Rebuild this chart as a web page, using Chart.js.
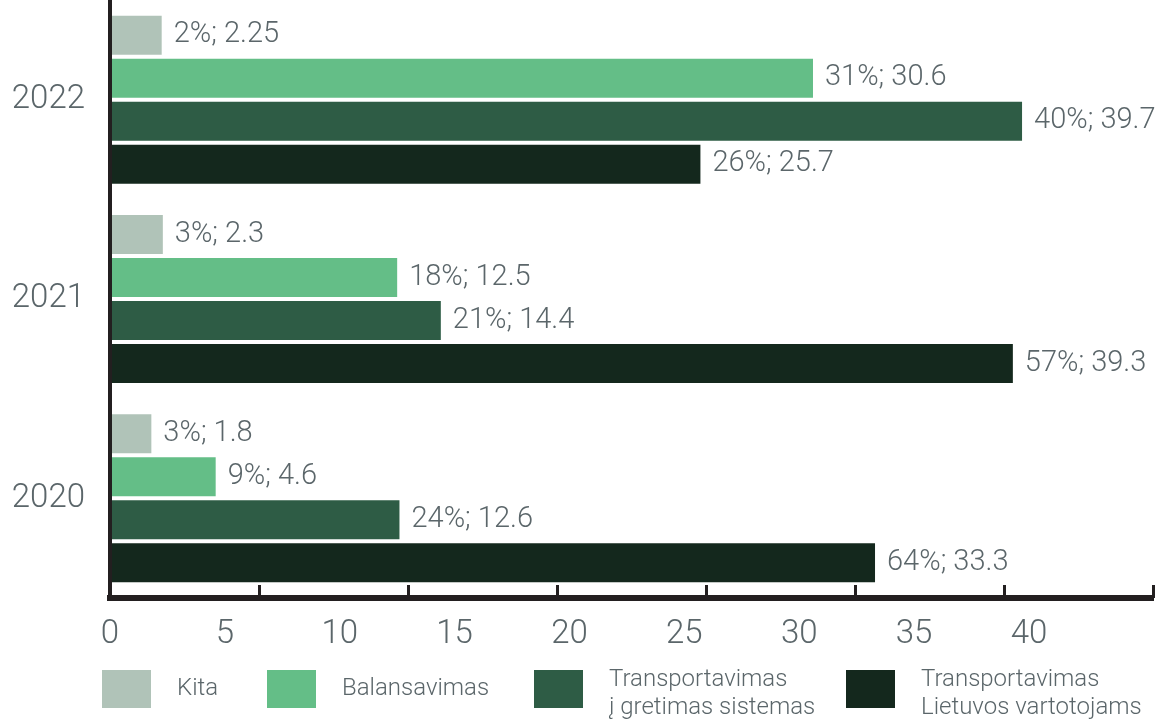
<!DOCTYPE html>
<html>
<head>
<meta charset="utf-8">
<script src="https://cdn.jsdelivr.net/npm/chart.js@4.4.1/dist/chart.umd.min.js"></script>
<style>
html,body{margin:0;padding:0;background:#ffffff;}
#wrap{width:1155px;height:721px;position:relative;}
</style>
</head>
<body>
<div id="wrap"><canvas id="c"></canvas></div>
<script>
// ---- data ----
const categories = ['2022', '2021', '2020'];
const kita = [2.25, 2.3, 1.8];
const kitaPct = [2, 3, 3];
const balansavimas = [30.6, 12.5, 4.6];
const balansavimasPct = [31, 18, 9];
const gretimas = [39.7, 14.4, 12.6];
const gretimasPct = [40, 21, 24];
const lietuvos = [25.7, 39.3, 33.3];
const lietuvosPct = [26, 57, 64];
const xTickLabels = [0, 5, 10, 15, 20, 25, 30, 35, 40];
const xMax = 45.4;
const tickMarkCount = 7;

// ---- style ----
const textColor = '#5b666a';
const axisColor = '#231f20';
const fontFamily = 'Roboto, "Noto Sans", sans-serif';
const LEG = { x: [102, 267, 534, 846], top: 670, boxW: 49, boxH: 38, gap: 26, lineStep: 28, size: 24 };

const valueLabels = {
  id: 'valueLabels',
  afterDatasetsDraw(chart) {
    const ctx = chart.ctx;
    ctx.save();
    ctx.font = '300 29px ' + fontFamily;
    ctx.fillStyle = textColor;
    ctx.textAlign = 'left';
    ctx.textBaseline = 'middle';
    chart.data.datasets.forEach((ds, di) => {
      const meta = chart.getDatasetMeta(di);
      meta.data.forEach((bar, i) => {
        ctx.fillText(ds.pct[i] + '%; ' + ds.data[i], bar.x + 12, bar.y);
      });
    });
    ctx.restore();
  }
};

const customLegend = {
  id: 'customLegend',
  afterDraw(chart) {
    const ctx = chart.ctx;
    ctx.save();
    chart.data.datasets.forEach((ds, i) => {
      const bx = LEG.x[i];
      ctx.fillStyle = ds.backgroundColor;
      ctx.fillRect(bx, LEG.top, LEG.boxW, LEG.boxH);
      ctx.fillStyle = textColor;
      ctx.font = '300 ' + LEG.size + 'px ' + fontFamily;
      ctx.textAlign = 'left';
      ctx.textBaseline = 'middle';
      const cy = LEG.top + LEG.boxH / 2;
      const tx = bx + LEG.boxW + LEG.gap;
      const lines = ds.legendLines;
      if (lines.length === 1) {
        ctx.fillText(lines[0], tx, cy);
      } else {
        lines.forEach((ln, k) => ctx.fillText(ln, tx, cy - 9 + k * LEG.lineStep));
      }
    });
    ctx.restore();
  }
};

new Chart(document.getElementById('c'), {
  type: 'bar',
  data: {
    labels: categories,
    datasets: [
      { label: 'Kita', legendLines: ['Kita'], data: kita, pct: kitaPct, backgroundColor: '#b0c3b8' },
      { label: 'Balansavimas', legendLines: ['Balansavimas'], data: balansavimas, pct: balansavimasPct, backgroundColor: '#64be87' },
      { label: 'Transportavimas į gretimas sistemas', legendLines: ['Transportavimas', 'į gretimas sistemas'], data: gretimas, pct: gretimasPct, backgroundColor: '#2e5c45' },
      { label: 'Transportavimas Lietuvos vartotojams', legendLines: ['Transportavimas', 'Lietuvos vartotojams'], data: lietuvos, pct: lietuvosPct, backgroundColor: '#14281d' }
    ]
  },
  options: {
    indexAxis: 'y',
    responsive: true,
    maintainAspectRatio: false,
    animation: false,
    events: [],
    datasets: { bar: { categoryPercentage: 0.863, barPercentage: 0.907, borderWidth: 0 } },
    layout: { padding: { top: 0, right: 2, bottom: 66, left: 0 } },
    plugins: { legend: { display: false }, tooltip: { enabled: false }, title: { display: false } },
    scales: {
      x: {
        type: 'linear', position: 'bottom', min: 0, max: xMax,
        afterBuildTicks: s => { s.ticks = xTickLabels.map(v => ({ value: v })); },
        afterFit: s => { s.height = 57; },
        grid: { display: false, drawTicks: false },
        border: { display: true, width: 6, color: axisColor, z: 1 },
        ticks: { padding: 17, color: textColor, autoSkip: false, maxRotation: 0,
                 font: { family: fontFamily, size: 33, weight: '300' } }
      },
      x2: {
        type: 'linear', axis: 'x', position: { y: 2.5 }, min: 0, max: xMax,
        afterBuildTicks: s => {
          const t = [];
          for (let k = 0; k <= tickMarkCount; k++) t.push({ value: k * xMax / tickMarkCount });
          s.ticks = t;
        },
        grid: { display: true, drawOnChartArea: false, drawTicks: true, tickLength: -13, tickWidth: 3, tickColor: axisColor, color: axisColor },
        border: { display: false },
        ticks: { display: false }
      },
      y: {
        type: 'category',
        afterFit: s => { s.width = 110; s.paddingTop = 0; s.paddingBottom = 0; },
        grid: { display: false, drawTicks: false },
        border: { display: true, width: 4, color: axisColor, z: 1 },
        ticks: { padding: 25, color: textColor, font: { family: fontFamily, size: 33, weight: '300' } }
      }
    }
  },
  plugins: [valueLabels, customLegend]
});
</script>
</body>
</html>
